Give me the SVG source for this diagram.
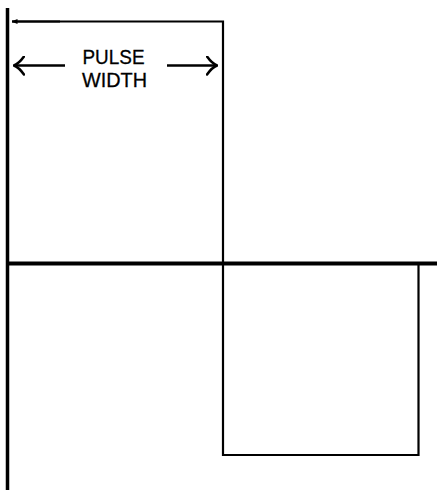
<svg xmlns="http://www.w3.org/2000/svg" width="437" height="490" viewBox="0 0 437 490">
<style>
.ln{stroke:#000;fill:none;stroke-linecap:butt}
.lbl{font-family:"Liberation Sans",Arial,sans-serif;font-size:20.5px;fill:#000;stroke:#000;stroke-width:0.3;text-anchor:middle}
</style>
<defs>
<marker id="chev" viewBox="0 0 12 20" refX="11" refY="10" markerWidth="12" markerHeight="20" markerUnits="userSpaceOnUse" orient="auto-start-reverse">
<path d="M1,1 Q6,8 11,10 Q6,12 1,19" fill="none" stroke="#000" stroke-width="2.6" stroke-linecap="round"/>
</marker>
<marker id="small" viewBox="0 0 6 6" refX="0.5" refY="3" markerWidth="6" markerHeight="6" markerUnits="userSpaceOnUse" orient="auto">
<path d="M0,3 L6,0.5 L6,5.5 Z" fill="#000"/>
</marker>
</defs>
<rect width="437" height="490" fill="#fff"/>
<g id="axes">
<line class="ln" x1="7.5" y1="8" x2="7.5" y2="490" stroke-width="3.5"/>
<line class="ln" x1="6" y1="263.5" x2="437" y2="263.5" stroke-width="4"/>
</g>
<g id="waveform">
<polyline class="ln" points="12,21.5 223,21.5 223,455 418.5,455 418.5,263" stroke-width="2.2"/>
<line class="ln" x1="12" y1="21.5" x2="60" y2="21.5" stroke-width="2.2" marker-start="url(#small)"/>
</g>
<g id="pulse-width-label">
<line class="ln" x1="14" y1="65.5" x2="65" y2="65.5" stroke-width="2.4" marker-start="url(#chev)"/>
<line class="ln" x1="167" y1="65.5" x2="217" y2="65.5" stroke-width="2.4" marker-end="url(#chev)"/>
<text class="lbl" x="113.5" y="63.5" textLength="62" lengthAdjust="spacingAndGlyphs">PULSE</text>
<text class="lbl" x="114.5" y="87" textLength="65" lengthAdjust="spacingAndGlyphs">WIDTH</text>
</g>
</svg>
